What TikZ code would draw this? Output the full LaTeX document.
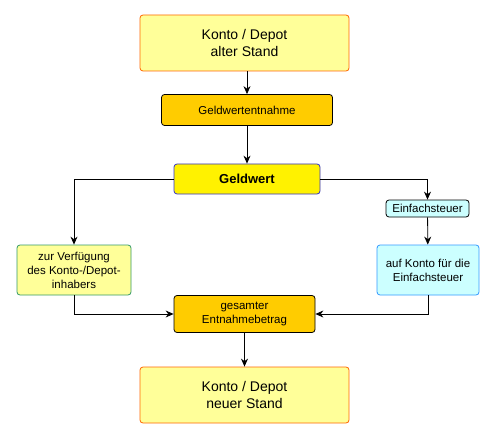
\documentclass[tikz,border=0pt]{standalone}
\usepackage{fontspec}
\setmainfont{Liberation Sans}
\usetikzlibrary{arrows.meta}

\definecolor{hellgelb}{HTML}{FFFF99}
\definecolor{goldgelb}{HTML}{FFCC00}
\definecolor{hellcyan}{HTML}{CCFFFF}
\definecolor{orangerand}{HTML}{FF6600}
\definecolor{blaurand}{HTML}{3399FF}
\definecolor{gruenrand}{HTML}{339966}
\definecolor{dunkelblau}{HTML}{3333CC}

\begin{document}
\begin{tikzpicture}[x=1pt, y=-1pt, line width=0.8pt,
    box/.style={rectangle, rounded corners=3pt, align=center, inner sep=0pt,
      font=\fontsize{11.5}{14}\selectfont},
    grossbox/.style={box, draw=orangerand, fill=hellgelb, minimum width=209,
      minimum height=56, font=\fontsize{14}{16.7}\selectfont},
    pfeil/.style={-{Stealth[length=8pt,width=7pt]}}]

      % Rahmen
      \fill[white] (0,0) rectangle (494,438);
      \useasboundingbox (0,0) rectangle (494,438);

      % Kaesten
      \node[grossbox] (alt) at (244.5,43) {Konto / Depot\\alter Stand};
      \node[box, draw=black, fill=goldgelb, minimum width=171, minimum height=31]
        (entnahme) at (247,110) {Geldwertentnahme};
      \node[box, draw=dunkelblau, fill=yellow, minimum width=146, minimum height=30,
        font=\fontsize{13}{15}\selectfont\bfseries] (geldwert) at (247,179) {Geldwert};
      \node[box, draw=black, fill=hellcyan, minimum width=83, minimum height=17]
        (steuer) at (427.5,208.5) {Einfachsteuer};
      \node[box, draw=gruenrand, fill=hellgelb, minimum width=114, minimum height=50]
        (verfuegung) at (74,270) {zur Verfügung\\des Konto-/Depot-\\inhabers};
      \node[box, draw=blaurand, fill=hellcyan, minimum width=102, minimum height=50]
        (steuerkonto) at (428,270) {auf Konto für die\\Einfachsteuer};
      \node[box, draw=black, fill=goldgelb, minimum width=141, minimum height=37]
        (gesamt) at (244.5,314) {gesamter\\Entnahmebetrag};
      \node[grossbox] (neu) at (244.5,395) {Konto / Depot\\neuer Stand};

      % Pfeile
      \draw[pfeil] (entnahme.north |- alt.south) -- (entnahme.north);
      \draw[pfeil] (entnahme) -- (geldwert);
      \draw[pfeil] (geldwert.west) -| (verfuegung.north);
      \draw[pfeil] (geldwert.east) -| (steuer.north);
      \draw[pfeil] (steuer) -- (steuerkonto);
      \draw[pfeil] (verfuegung.south) |- (gesamt.west);
      \draw[pfeil] (steuerkonto.south) |- (gesamt.east);
      \draw[pfeil] (gesamt) -- (neu);

    \end{tikzpicture}
\end{document}
